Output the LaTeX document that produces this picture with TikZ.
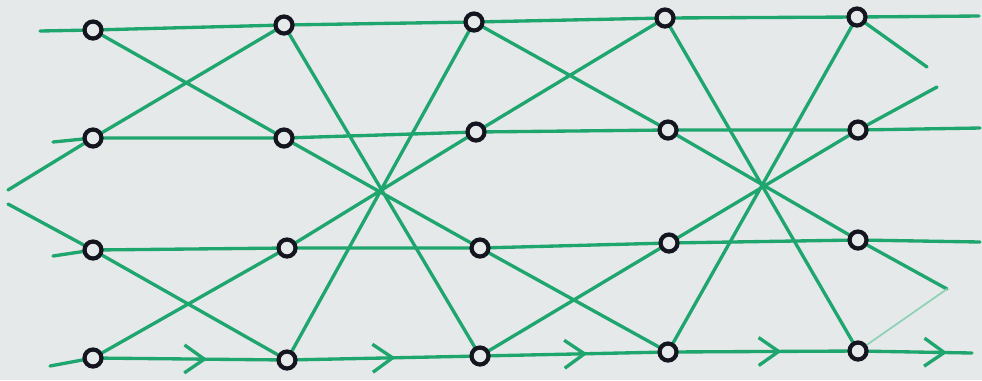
\documentclass[tikz,border=0pt]{standalone}
\usepackage{tikz}
\usetikzlibrary{arrows.meta,backgrounds,decorations.markings}
\definecolor{paper}{HTML}{E5E9EA}
\definecolor{pen}{HTML}{1FA56E}
\definecolor{ink}{HTML}{15151F}
\tikzset{
  site/.style={circle,draw=ink,fill=paper,line width=2.4pt,minimum size=0.34cm,inner sep=0pt},
  wire/.style={color=pen,line width=1.9pt,line cap=round},
  faint/.style={color=pen!50,line width=1pt,line cap=round},
  flowmark/.style={postaction={decorate},decoration={markings,
    mark=at position #1 with {\arrow{Straight Barb[length=4mm,width=5.6mm]}}}}
}

\begin{document}
\begin{tikzpicture}[x=0.02cm,y=-0.02cm]
        \useasboundingbox (0,0) rectangle (982,380);
        \node[site] (a11) at (93,30) {};  \node[site] (a12) at (284,25) {};
        \node[site] (a13) at (474,22) {}; \node[site] (a14) at (665,18) {};
        \node[site] (a15) at (857,17) {};
        \node[site] (a21) at (93,138) {};  \node[site] (a22) at (284,138) {};
        \node[site] (a23) at (476,132) {}; \node[site] (a24) at (668,130) {};
        \node[site] (a25) at (858,130) {};
        \node[site] (a31) at (93,250) {};  \node[site] (a32) at (287,248) {};
        \node[site] (a33) at (480,248) {}; \node[site] (a34) at (669,243) {};
        \node[site] (a35) at (858,240) {};
        \node[site] (a41) at (93,358) {};  \node[site] (a42) at (287,360) {};
        \node[site] (a43) at (480,356) {}; \node[site] (a44) at (668,352) {};
        \node[site] (a45) at (858,351) {};
        \coordinate (l1) at (40,31);  \coordinate (r1) at (979,16);
        \coordinate (l2) at (53,142); \coordinate (r2) at (980,128);
        \coordinate (l3) at (53,256); \coordinate (r3) at (980,242);
        \coordinate (l4) at (50,366); \coordinate (r4) at (972,353);
        \coordinate (t1) at (8,190);  \coordinate (t2) at (8,204);
        \coordinate (u1) at (927,67); \coordinate (u2) at (937,87);
        \coordinate (u3) at (947,289);
        \begin{scope}[on background layer]
          \fill[paper] (0,0) rectangle (982,380);
          \draw[wire] (l1) -- (a11) -- (a12) -- (a13) -- (a14) -- (a15) -- (r1);
          \draw[wire] (l2) -- (a21) -- (a22) -- (a23) -- (a24) -- (a25) -- (r2);
          \draw[wire] (l3) -- (a31) -- (a32) -- (a33) -- (a34) -- (a35) -- (r3);
          \draw[wire] (l4) -- (a41);
          \draw[wire,flowmark=0.6] (a41) -- (a42);
          \draw[wire,flowmark=0.57] (a42) -- (a43);
          \draw[wire,flowmark=0.58] (a43) -- (a44);
          \draw[wire,flowmark=0.61] (a44) -- (a45);
          \draw[wire,flowmark=0.76] (a45) -- (r4);
          \draw[wire] (a11) -- (a22) (a21) -- (a12) (a31) -- (a42) (a41) -- (a32);
          \draw[wire] (a12) -- (a43) (a22) -- (a33) (a32) -- (a23) (a42) -- (a13);
          \draw[wire] (a13) -- (a24) (a23) -- (a14) (a33) -- (a44) (a43) -- (a34);
          \draw[wire] (a14) -- (a45) (a24) -- (a35) (a34) -- (a25) (a44) -- (a15);
          \draw[wire] (a21) -- (t1) (a31) -- (t2);
          \draw[wire] (a15) -- (u1) (a25) -- (u2) (a35) -- (u3);
          \draw[faint] (a45) -- (u3);
        \end{scope}
      \end{tikzpicture}
\end{document}
